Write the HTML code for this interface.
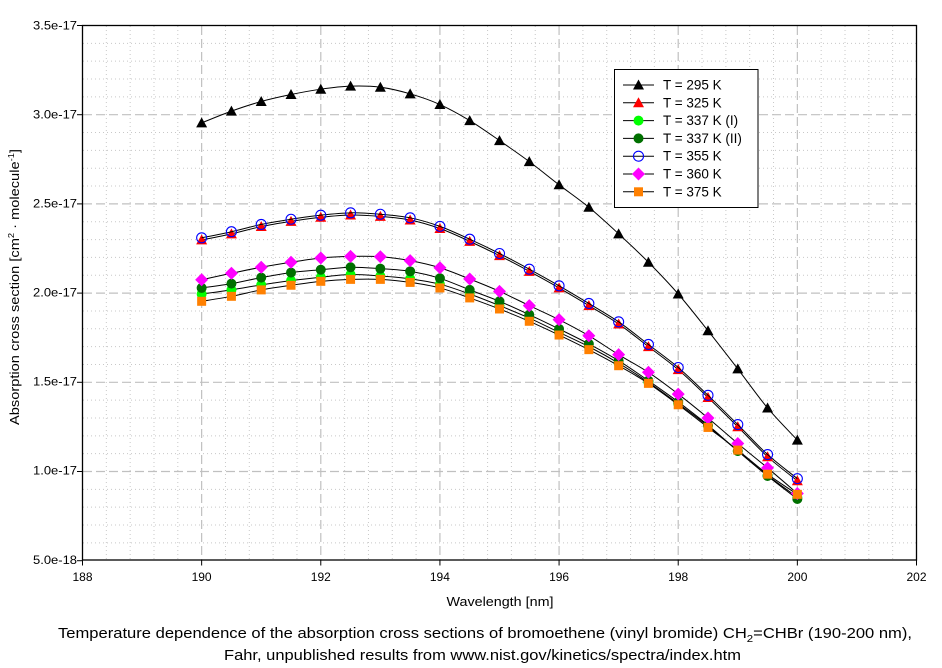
<!DOCTYPE html>
<html><head><meta charset="utf-8"><style>
html,body{margin:0;padding:0;background:#fff;}
svg{display:block;font-family:"Liberation Sans",Arial,sans-serif;}
</style></head><body>
<svg id="s" width="942" height="668" viewBox="0 0 942 668" xmlns="http://www.w3.org/2000/svg">
<rect width="942" height="668" fill="#fff"/>
<g id="grid"></g>
<g id="series"></g>
<!-- frame -->
<rect x="82.5" y="25.5" width="834" height="534.5" fill="none" stroke="#000" stroke-width="1.3"/>
<g id="ticks" stroke="#000" stroke-width="1"></g>
<g font-size="12" fill="#000" text-anchor="end">
<text x="77" y="29.5" textLength="44" lengthAdjust="spacingAndGlyphs">3.5e-17</text>
<text x="77" y="118.5" textLength="44" lengthAdjust="spacingAndGlyphs">3.0e-17</text>
<text x="77" y="207.5" textLength="44" lengthAdjust="spacingAndGlyphs">2.5e-17</text>
<text x="77" y="296.5" textLength="44" lengthAdjust="spacingAndGlyphs">2.0e-17</text>
<text x="77" y="385.5" textLength="44" lengthAdjust="spacingAndGlyphs">1.5e-17</text>
<text x="77" y="474.5" textLength="44" lengthAdjust="spacingAndGlyphs">1.0e-17</text>
<text x="77" y="564" textLength="44" lengthAdjust="spacingAndGlyphs">5.0e-18</text>
</g>
<g font-size="12" fill="#000" text-anchor="middle">
<text x="82.5" y="581">188</text>
<text x="201.6" y="581">190</text>
<text x="320.8" y="581">192</text>
<text x="439.9" y="581">194</text>
<text x="559.1" y="581">196</text>
<text x="678.2" y="581">198</text>
<text x="797.4" y="581">200</text>
<text x="916.5" y="581">202</text>
</g>
<text x="500" y="606" font-size="12.5" text-anchor="middle" textLength="107" lengthAdjust="spacingAndGlyphs">Wavelength [nm]</text>
<text transform="translate(19,287) rotate(-90)" font-size="12.5" text-anchor="middle" textLength="276" lengthAdjust="spacingAndGlyphs">Absorption cross section [cm<tspan font-size="8" dy="-5">2</tspan><tspan dy="5"> · molecule</tspan><tspan font-size="8" dy="-5">-1</tspan><tspan dy="5">]</tspan></text>
<text x="485" y="638" font-size="14.5" text-anchor="middle" textLength="854" lengthAdjust="spacingAndGlyphs">Temperature dependence of the absorption cross sections of bromoethene (vinyl bromide) CH<tspan font-size="10" dy="4">2</tspan><tspan dy="-4">=CHBr (190-200 nm),</tspan></text>
<text x="482.5" y="660" font-size="14.5" text-anchor="middle" textLength="517" lengthAdjust="spacingAndGlyphs">Fahr, unpublished results from www.nist.gov/kinetics/spectra/index.htm</text>
<!-- legend -->
<rect x="614.5" y="69.5" width="143.5" height="138" fill="#fff" stroke="#000" stroke-width="1"/>
<g id="legend"></g>
<g font-size="13.5" fill="#000">
<text x="663" y="89.5">T = 295 K</text>
<text x="663" y="107.3">T = 325 K</text>
<text x="663" y="125.1">T = 337 K (I)</text>
<text x="663" y="142.9">T = 337 K (II)</text>
<text x="663" y="160.7">T = 355 K</text>
<text x="663" y="178.5">T = 360 K</text>
<text x="663" y="196.3">T = 375 K</text>
</g>
</svg>
<script>
(function(){
var NS="http://www.w3.org/2000/svg";
function X(w){return 82.5+(w-188)*59.571;}
function Y(v){return 25.5+(3.5-v)*178.4;}
function el(tag,attrs,parent){var e=document.createElementNS(NS,tag);for(var k in attrs)e.setAttribute(k,attrs[k]);parent.appendChild(e);return e;}
var grid=document.getElementById('grid');
for(var k=1;k<35;k++){ if(k%5==0) continue; var x=X(188+k*0.4);
 el('line',{x1:x,y1:26,x2:x,y2:559.5,stroke:'#c8c8c8','stroke-width':1,'stroke-dasharray':'1 3'},grid);}
for(var k=1;k<30;k++){ if(k%5==0) continue; var y=Y(0.5+k*0.1);
 el('line',{x1:83,y1:y,x2:916,y2:y,stroke:'#c8c8c8','stroke-width':1,'stroke-dasharray':'1 3'},grid);}
for(var w=190;w<=200;w+=2){var x=X(w);
 el('line',{x1:x,y1:26,x2:x,y2:559.5,stroke:'#c0c0c0','stroke-width':1.2,'stroke-dasharray':'9 4'},grid);}
for(var v=1.0;v<=3.01;v+=0.5){var y=Y(v);
 el('line',{x1:83,y1:y,x2:916,y2:y,stroke:'#c0c0c0','stroke-width':1.2,'stroke-dasharray':'9 4'},grid);}
var ticks=document.getElementById('ticks');
for(var v=0.5;v<=3.51;v+=0.5){var y=Y(v);el('line',{x1:77,y1:y,x2:82.5,y2:y},ticks);}
for(var w=188;w<=202;w+=2){var x=X(w);el('line',{x1:x,y1:560,x2:x,y2:565.5},ticks);}

var xs=[];for(var i=0;i<21;i++)xs.push(190+i*0.5);
var d295=[2.954,3.02,3.074,3.113,3.143,3.16,3.154,3.117,3.057,2.967,2.855,2.737,2.607,2.481,2.332,2.173,1.995,1.789,1.575,1.356,1.176];
var d325=[2.298,2.332,2.373,2.402,2.425,2.438,2.43,2.41,2.362,2.29,2.21,2.122,2.029,1.93,1.827,1.70,1.571,1.415,1.251,1.083,0.948];
var d355=d325.map(function(v){return v+0.012;});
var d360=[2.075,2.111,2.145,2.173,2.197,2.206,2.204,2.182,2.142,2.079,2.01,1.93,1.851,1.761,1.655,1.556,1.434,1.30,1.157,1.020,0.877];
var d337b=[2.029,2.053,2.087,2.115,2.131,2.145,2.137,2.122,2.083,2.018,1.954,1.879,1.799,1.715,1.621,1.509,1.39,1.26,1.115,0.975,0.846];
var d337a=[1.995,2.018,2.046,2.07,2.089,2.104,2.096,2.08,2.05,1.995,1.93,1.86,1.78,1.70,1.607,1.50,1.38,1.255,1.115,0.978,0.856];
var d375=[1.954,1.982,2.018,2.044,2.066,2.077,2.077,2.06,2.029,1.973,1.911,1.842,1.765,1.683,1.593,1.494,1.374,1.247,1.12,0.985,0.872];

function marker(type,cx,cy,g){
 if(type=='triK'||type=='triR'){var f=type=='triK'?'#000':'#ff0000';
  el('polygon',{points:(cx-5.5)+','+(cy+4.5)+' '+(cx+5.5)+','+(cy+4.5)+' '+cx+','+(cy-5.5),fill:f},g);}
 else if(type=='cirG') el('circle',{cx:cx,cy:cy,r:5,fill:'#00ff00'},g);
 else if(type=='cirD') el('circle',{cx:cx,cy:cy,r:5,fill:'#007000'},g);
 else if(type=='cirO') el('circle',{cx:cx,cy:cy,r:5,fill:'none',stroke:'#0000ff','stroke-width':1.1},g);
 else if(type=='dia') el('polygon',{points:cx+','+(cy-6.5)+' '+(cx+6.5)+','+cy+' '+cx+','+(cy+6.5)+' '+(cx-6.5)+','+cy,fill:'#ff00ff'},g);
 else if(type=='sq') el('rect',{x:cx-4.5,y:cy-4.5,width:9,height:9,fill:'#ff8000'},g);
}
function path(pts){
 var d='M'+pts[0][0]+','+pts[0][1];
 for(var i=0;i<pts.length-1;i++){
  var p0=pts[i-1]||pts[i],p1=pts[i],p2=pts[i+1],p3=pts[i+2]||pts[i+1];
  var c1x=p1[0]+(p2[0]-p0[0])/6,c1y=p1[1]+(p2[1]-p0[1])/6;
  var c2x=p2[0]-(p3[0]-p1[0])/6,c2y=p2[1]-(p3[1]-p1[1])/6;
  d+=' C'+c1x.toFixed(2)+','+c1y.toFixed(2)+' '+c2x.toFixed(2)+','+c2y.toFixed(2)+' '+p2[0].toFixed(2)+','+p2[1].toFixed(2);
 }
 return d;
}
var series=[[d295,'triK'],[d325,'triR'],[d337a,'cirG'],[d337b,'cirD'],[d355,'cirO'],[d360,'dia'],[d375,'sq']];
var sg=document.getElementById('series');
series.forEach(function(s){
 var pts=xs.map(function(w,i){return [X(w),Y(s[0][i])];});
 el('path',{d:path(pts),fill:'none',stroke:'#000','stroke-width':1},sg);
 pts.forEach(function(p){marker(s[1],p[0],p[1],sg);});
});
var lg=document.getElementById('legend');
series.forEach(function(s,i){
 var y=85+i*17.8;
 el('line',{x1:623,y1:y,x2:654,y2:y,stroke:'#000','stroke-width':1},lg);
 marker(s[1],638.5,y,lg);
});
})();
</script>
</body></html>
